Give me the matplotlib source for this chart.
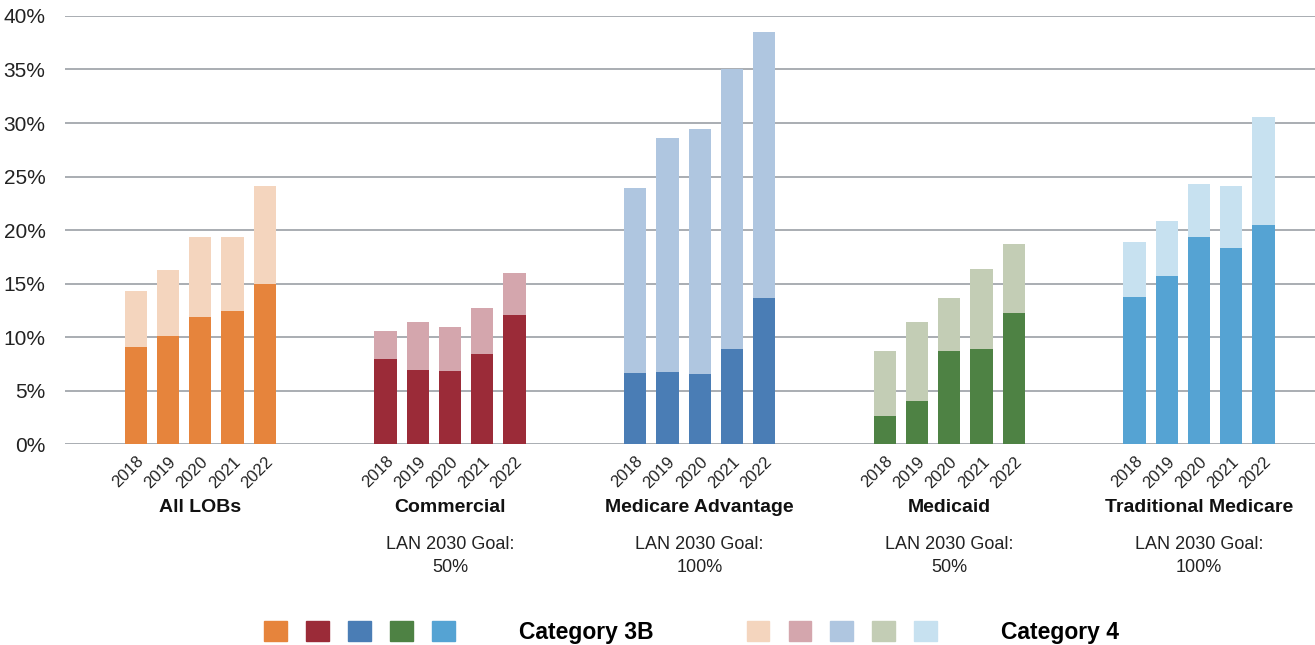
import matplotlib.pyplot as plt
from matplotlib.patches import Patch
from matplotlib.legend_handler import HandlerTuple
from matplotlib.transforms import blended_transform_factory

plt.rcParams['font.family'] = ['Liberation Sans', 'DejaVu Sans']

years = ["2018", "2019", "2020", "2021", "2022"]
groups = ["All LOBs", "Commercial", "Medicare Advantage", "Medicaid", "Traditional Medicare"]
goals = ["", "LAN 2030 Goal:\n50%", "LAN 2030 Goal:\n100%", "LAN 2030 Goal:\n50%", "LAN 2030 Goal:\n100%"]

# Category 3B (bottom) and total (3B + 4) per group, in percent
cat3b = [
    [9.1, 10.1, 11.9, 12.4, 15.0],
    [7.9, 6.9, 6.8, 8.4, 12.1],
    [6.6, 6.7, 6.5, 8.9, 13.6],
    [2.6, 4.0, 8.7, 8.9, 12.2],
    [13.7, 15.7, 19.3, 18.3, 20.5],
]
total = [
    [14.3, 16.3, 19.3, 19.3, 24.1],
    [10.6, 11.4, 10.9, 12.7, 16.0],
    [23.9, 28.6, 29.4, 35.0, 38.5],
    [8.7, 11.4, 13.6, 16.4, 18.7],
    [18.9, 20.8, 24.3, 24.1, 30.6],
]

dark_colors = ["#E6843C", "#9B2B38", "#4A7DB5", "#4E8244", "#55A3D3"]
light_colors = ["#F4D5BE", "#D4A6AD", "#AFC6E0", "#C3CDB5", "#C7E1F0"]

fig = plt.figure(figsize=(13.15, 6.45), dpi=100)
ax = fig.add_axes([0.0494, 0.3116, 0.9506, 0.6636])

step = 7.75
width = 0.69
xticks = []
xlabels = []
for g in range(len(groups)):
    xs = [g * step + i for i in range(len(years))]
    cat4 = [t - b for t, b in zip(total[g], cat3b[g])]
    ax.bar(xs, cat3b[g], width, color=dark_colors[g], zorder=3)
    ax.bar(xs, cat4, width, bottom=cat3b[g], color=light_colors[g], zorder=3)
    xticks += xs
    xlabels += years

ax.set_xlim(-2.2, 36.6)
ax.set_ylim(0, 40)
ax.set_yticks(range(0, 41, 5))
ax.set_yticklabels([f"{v}%" for v in range(0, 41, 5)], fontsize=15, color="#222222")
ax.yaxis.grid(True, color="#A3A7AC", linewidth=1.3, zorder=0)
ax.set_xticks(xticks)
ax.set_xticklabels(xlabels, rotation=45, ha="right", rotation_mode="anchor",
                   fontsize=12, color="#222222")
ax.tick_params(axis="y", length=0, pad=14)
ax.tick_params(axis="x", length=0, pad=7)
for s in ax.spines.values():
    s.set_visible(False)
ax.set_axisbelow(True)

trans = blended_transform_factory(ax.transData, fig.transFigure)
for g in range(len(groups)):
    cx = g * step + 2
    ax.text(cx, 1 - 508 / 645, groups[g], transform=trans, ha="center", va="center",
            fontsize=14, fontweight="bold", color="#111111")
    if goals[g]:
        ax.text(cx, 1 - 556 / 645, goals[g], transform=trans, ha="center", va="center",
                fontsize=13, color="#222222", linespacing=1.5)

h3b = tuple(Patch(color=c) for c in dark_colors)
h4 = tuple(Patch(color=c) for c in light_colors)
fig.legend([h3b, h4], ["Category 3B", "Category 4"],
           handler_map={tuple: HandlerTuple(ndivide=None, pad=0.86)},
           loc="center", bbox_to_anchor=(0.526, 1 - 632 / 645), ncol=2, frameon=False,
           handlelength=8.3, handleheight=0.97, handletextpad=2.8, columnspacing=4.06,
           prop={"size": 16.5, "weight": "bold"})

fig.savefig("out.png", dpi=100)
